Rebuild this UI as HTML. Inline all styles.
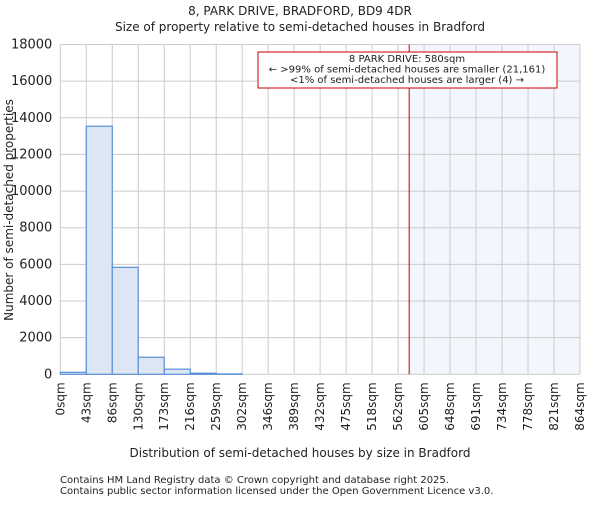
<!DOCTYPE html>
<html><head><meta charset="utf-8"><style>
body{margin:0;background:#fff;}
svg text{font-family:"DejaVu Sans","Liberation Sans",sans-serif;fill:#222;}
</style></head><body>
<svg id="c" width="600" height="500" viewBox="0 0 600 500" xmlns="http://www.w3.org/2000/svg">
<text x="300" y="15" font-size="12" text-anchor="middle">8, PARK DRIVE, BRADFORD, BD9 4DR</text>
<text x="300" y="31" font-size="12" text-anchor="middle">Size of property relative to semi-detached houses in Bradford</text>
<g id="grid"></g><g id="bars"></g><g id="axes"></g>
<text x="300" y="457" font-size="12" text-anchor="middle">Distribution of semi-detached houses by size in Bradford</text>
<text transform="translate(13,210) rotate(-90)" font-size="12" text-anchor="middle">Number of semi-detached properties</text>
<text x="60" y="483" font-size="10">Contains HM Land Registry data © Crown copyright and database right 2025.</text>
<text x="60" y="494" font-size="10">Contains public sector information licensed under the Open Government Licence v3.0.</text>
</svg>
<script>
const binLabels=["0sqm","43sqm","86sqm","130sqm","173sqm","216sqm","259sqm","302sqm","346sqm","389sqm","432sqm","475sqm","518sqm","562sqm","605sqm","648sqm","691sqm","734sqm","778sqm","821sqm","864sqm"];
const counts=[110,13540,5840,930,280,60,20,0,0,0,0,0,0,0,0,0,0,0,0,0];
const yTicks=[0,2000,4000,6000,8000,10000,12000,14000,16000,18000];
const propertySize=580;
const maxSize=864;
const NS="http://www.w3.org/2000/svg";
const L=60.3,R=580,T=44.5,B=374.3,yMax=18000;
const bw=(R-L)/counts.length;
const xs=v=>L+(v/maxSize)*(R-L);
const xi=i=>L+i*bw;
const ys=v=>B-(v/yMax)*(B-T);
function mk(t,a,p){const e=document.createElementNS(NS,t);for(const k in a)e.setAttribute(k,a[k]);p.appendChild(e);return e;}
const grid=document.getElementById('grid'),bars=document.getElementById('bars'),axes=document.getElementById('axes');
const px=xs(propertySize);
const sh=mk('rect',{x:px,y:T,width:R-px,height:B-T,fill:'#f3f6fd'},grid);


yTicks.forEach(v=>{const y=ys(v);
const g=mk('line',{x1:L,x2:R,y1:y,y2:y,stroke:'#ccc','stroke-width':1},grid);


const t=mk('text',{x:L-8,y:y+4,'font-size':13,'text-anchor':'end'},axes);t.textContent=v;

});
binLabels.forEach((s,i)=>{const x=xi(i);
const g=mk('line',{x1:x,x2:x,y1:T,y2:B,stroke:'#ccc','stroke-width':1},grid);


const t=mk('text',{transform:`translate(${x+4},${B+8}) rotate(-90)`,'font-size':12,'text-anchor':'end'},axes);t.textContent=s;

});
counts.forEach((c,i)=>{if(c<=0)return;const y=ys(c);
const r=mk('rect',{x:xi(i),y:y,width:bw,height:B-y,fill:'#dce6f4',stroke:'#5a8fd6','stroke-width':1.2},bars);

});
const ln=mk('line',{x1:px,x2:px,y1:T,y2:B,stroke:'#c00','stroke-width':1},bars);


const box=mk('rect',{x:258,y:52,width:299,height:36,fill:'#fff',stroke:'#c00','stroke-width':1},bars);


["8 PARK DRIVE: 580sqm","← >99% of semi-detached houses are smaller (21,161)","<1% of semi-detached houses are larger (4) →"].forEach((s,i)=>{
const t=mk('text',{x:407,y:62+i*10.5,'font-size':10,'text-anchor':'middle'},bars);t.textContent=s;

});
</script>
</body></html>
